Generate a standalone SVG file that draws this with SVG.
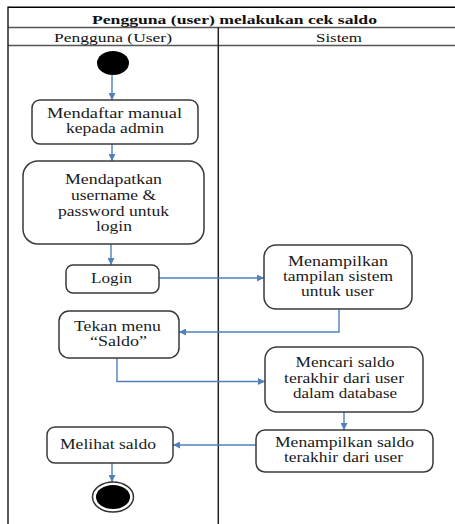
<svg xmlns="http://www.w3.org/2000/svg" width="455" height="524" viewBox="0 0 455 524">
<defs>
<style>
.t{font-size:14.5px;fill:#1a1a1a;text-anchor:middle}
.h{font-size:13px;fill:#111;text-anchor:middle}
.b{fill:#fff;stroke:#3a3a3a;stroke-width:1.5}
.c{fill:none;stroke:#4f81bd;stroke-width:1.4}
.f{stroke:#222;stroke-width:1.5;fill:none}
</style>
<marker id="ah" viewBox="0 0 10 10" refX="10" refY="5" markerWidth="7" markerHeight="7" markerUnits="userSpaceOnUse" orient="auto">
<path d="M0,0 L10,5 L0,10 z" fill="#4f81bd"/>
</marker>
</defs>
<g id="frame" font-family="Liberation Serif, DejaVu Serif, serif">
<rect x="0" y="0" width="455" height="524" fill="#fff"/>
<line x1="8" y1="7.3" x2="455" y2="7.3" stroke="#000" stroke-width="1.5"/>
<line x1="8" y1="27.5" x2="455" y2="27.5" stroke="#555" stroke-width="1.5"/>
<line x1="8" y1="45.5" x2="455" y2="45.5" stroke="#555" stroke-width="1.5"/>
<line x1="8" y1="6.6" x2="8" y2="524" class="f"/>
<line x1="218.3" y1="27.5" x2="218.3" y2="524" class="f"/>
<text class="h" x="234.5" y="24" font-weight="bold" textLength="285" lengthAdjust="spacingAndGlyphs">Pengguna (user) melakukan cek saldo</text>
<text class="h" x="113" y="42" textLength="118" lengthAdjust="spacingAndGlyphs">Pengguna (User)</text>
<text class="h" x="339" y="42" textLength="46" lengthAdjust="spacingAndGlyphs">Sistem</text>
</g>
<g id="connectors">
<line class="c" x1="112" y1="75" x2="112" y2="100" marker-end="url(#ah)"/>
<line class="c" x1="112" y1="144" x2="112" y2="161" marker-end="url(#ah)"/>
<line class="c" x1="111" y1="244" x2="111" y2="265" marker-end="url(#ah)"/>
<line class="c" x1="159" y1="278" x2="264" y2="278" marker-end="url(#ah)"/>
<polyline class="c" points="339,309 339,332 179,332" marker-end="url(#ah)"/>
<polyline class="c" points="117,358 117,381.5 265,381.5" marker-end="url(#ah)"/>
<line class="c" x1="344" y1="412" x2="344" y2="430" marker-end="url(#ah)"/>
<line class="c" x1="256" y1="445" x2="173" y2="445" marker-end="url(#ah)"/>
<line class="c" x1="112" y1="463" x2="112" y2="482" marker-end="url(#ah)"/>
</g>
<g id="start">
<ellipse cx="113" cy="63" rx="16" ry="12" fill="#000"/>
</g>
<g id="nodes" font-family="Liberation Serif, DejaVu Serif, serif">
<g id="n1">
<rect class="b" x="32" y="100" width="166" height="44" rx="8"/>
<text class="t" x="114.5" y="118" textLength="135" lengthAdjust="spacingAndGlyphs">Mendaftar  manual</text>
<text class="t" x="115" y="133" textLength="98" lengthAdjust="spacingAndGlyphs">kepada admin</text>
</g>
<g id="n2">
<rect class="b" x="23" y="161" width="181" height="83" rx="15"/>
<text class="t" x="113.5" y="184" textLength="97" lengthAdjust="spacingAndGlyphs">Mendapatkan</text>
<text class="t" x="113.5" y="200" textLength="85" lengthAdjust="spacingAndGlyphs">username &amp;</text>
<text class="t" x="113.5" y="216" textLength="111" lengthAdjust="spacingAndGlyphs">password untuk</text>
<text class="t" x="114" y="231" textLength="36" lengthAdjust="spacingAndGlyphs">login</text>
</g>
<g id="n3">
<rect class="b" x="66" y="265" width="93" height="28" rx="7"/>
<text class="t" x="111.5" y="283" textLength="41" lengthAdjust="spacingAndGlyphs">Login</text>
</g>
<g id="n4">
<rect class="b" x="264" y="245" width="148" height="64" rx="12"/>
<text class="t" x="338" y="266" textLength="100" lengthAdjust="spacingAndGlyphs">Menampilkan</text>
<text class="t" x="338" y="281" textLength="110" lengthAdjust="spacingAndGlyphs">tampilan sistem</text>
<text class="t" x="337.5" y="296" textLength="73" lengthAdjust="spacingAndGlyphs">untuk user</text>
</g>
<g id="n5">
<rect class="b" x="59" y="311" width="120" height="47" rx="10"/>
<text class="t" x="117.5" y="331" textLength="87" lengthAdjust="spacingAndGlyphs">Tekan menu</text>
<text class="t" x="118.5" y="346" textLength="57" lengthAdjust="spacingAndGlyphs">“Saldo”</text>
</g>
<g id="n6">
<rect class="b" x="265" y="347" width="158" height="65" rx="12"/>
<text class="t" x="345" y="367" textLength="99" lengthAdjust="spacingAndGlyphs">Mencari saldo</text>
<text class="t" x="344" y="383" textLength="120" lengthAdjust="spacingAndGlyphs">terakhir dari user</text>
<text class="t" x="345" y="398" textLength="104" lengthAdjust="spacingAndGlyphs">dalam database</text>
</g>
<g id="n7">
<rect class="b" x="256" y="430" width="177" height="42" rx="9"/>
<text class="t" x="344.5" y="447" textLength="139" lengthAdjust="spacingAndGlyphs">Menampilkan saldo</text>
<text class="t" x="343.5" y="462" textLength="119" lengthAdjust="spacingAndGlyphs">terakhir dari user</text>
</g>
<g id="n8">
<rect class="b" x="47" y="427" width="126" height="36" rx="8"/>
<text class="t" x="108" y="449" textLength="96" lengthAdjust="spacingAndGlyphs">Melihat saldo</text>
</g>
</g>
<g id="end">
<ellipse cx="113" cy="497" rx="20.5" ry="15" fill="#fff" stroke="#333" stroke-width="1.5"/>
<ellipse cx="113" cy="497" rx="17" ry="12" fill="#000"/>
</g>
</svg>
